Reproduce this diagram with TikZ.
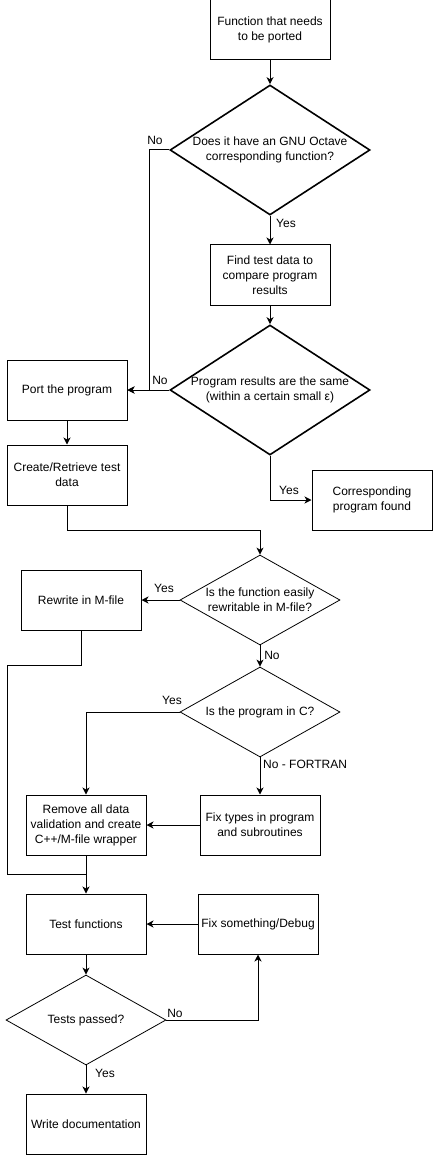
\documentclass[tikz,border=0pt]{standalone}
\usepackage{fontspec}
\setmainfont{Liberation Sans}
\usetikzlibrary{arrows.meta,shapes.geometric,calc}

\tikzset{
  box/.style={draw, line width=1pt, minimum width=120pt, minimum height=60pt, align=center, inner sep=1pt},
  bigq/.style={draw, diamond, line width=1.6pt, minimum width=200pt, minimum height=130pt, aspect=1.54, inner sep=0pt, align=center},
  smallq/.style={draw, diamond, line width=0.8pt, minimum width=160pt, minimum height=90pt, aspect=1.78, inner sep=0pt, align=center},
  arr/.style={line width=1pt, -{Stealth[length=7pt,width=7pt,inset=2pt]}},
  wire/.style={line width=1pt},
  lbl/.style={inner sep=0pt}
}

\begin{document}
\begin{tikzpicture}[x=1pt, y=-1pt, font=\fontsize{12}{15}\selectfont]
			%%%%% START %%%%%
			\useasboundingbox (0,0) rectangle (434,1158);
			
			\node[box] (start) at (270,30) {Function that needs\\to be ported};
			\node[bigq] (q1) at (270,150) {Does it have an GNU Octave\\corresponding function?};
			\node[box] (find) at (270,275) {Find test data to\\compare program\\results};
			\node[bigq] (q2) at (270,390) {Program results are the same\\(within a certain small ε)};
			\node[box] (port) at (67,390) {Port the program};
			\node[box] (create) at (67,475) {Create/Retrieve test\\data};
			\node[box] (found) at (372,500) {Corresponding\\program found};
			
			\node[smallq] (q3) at (260,600) {Is the function easily\\rewritable in M-file?};
			\node[box] (rewrite) at (81,600) {Rewrite in M-file};
			\node[smallq] (q4) at (260,712) {Is the program in C?};
			\node[box] (remove) at (86,825) {Remove all data\\validation and create\\C++/M-file wrapper};
			\node[box] (fixtypes) at (260,825) {Fix types in program\\and subroutines};
			\node[box] (test) at (86,924) {Test functions};
			\node[box] (fixdbg) at (258,924) {Fix something/Debug};
			\node[smallq] (q5) at (86,1020) {Tests passed?};
			\node[box] (doc) at (86,1124) {Write documentation};
			
			\coordinate (lft) at (7,665);
			\coordinate (join) at ($(remove.south)!0.5!(test.north)$);
			
			% top half
			\draw[arr] (start) -- (q1);
			\draw[arr] (q1.west) -- ++(-20,0) |- (port.east);
			\draw[arr] (q1) -- (find);
			\draw[arr] (find) -- (q2);
			\draw[arr] (q2.west) -- (port.east);
			\draw[arr] (q2.south) |- (found.west);
			\draw[arr] (port) -- (create);
			\draw[arr] (create.south) -- ++(0,25) -| (q3.north);
			
			% bottom half
			\draw[arr] (q3.west) -- (rewrite.east);
			\draw[arr] (q3) -- (q4);
			\draw[arr] (q4.west) -| (remove.north);
			\draw[arr] (q4) -- (fixtypes);
			\draw[arr] (fixtypes) -- (remove);
			\draw[wire] (rewrite.south) |- (lft) |- (join);
			\draw[arr] (remove) -- (test);
			\draw[arr] (fixdbg) -- (test);
			\draw[arr] (test) -- (q5);
			\draw[arr] (q5.east) -| (fixdbg.south);
			\draw[arr] (q5) -- (doc);
			
			\node[lbl] (no1) at (155,140) {No};
			\node[lbl] (yes1) at (286,223) {Yes};
			\node[lbl] (no2) at (160,380) {No};
			\node[lbl] (yes2) at (289,490) {Yes};
			\node[lbl] (yes3) at (164,588) {Yes};
			\node[lbl] (no3) at (272,655) {No};
			\node[lbl] (yes4) at (172,700) {Yes};
			\node[lbl, anchor=west] (fortran) at (263,764) {No - FORTRAN};
			\node[lbl] (no5) at (175,1013) {No};
			\node[lbl] (yes5) at (105,1073) {Yes};
			
			%%%%% END %%%%%
\end{tikzpicture}
\end{document}
